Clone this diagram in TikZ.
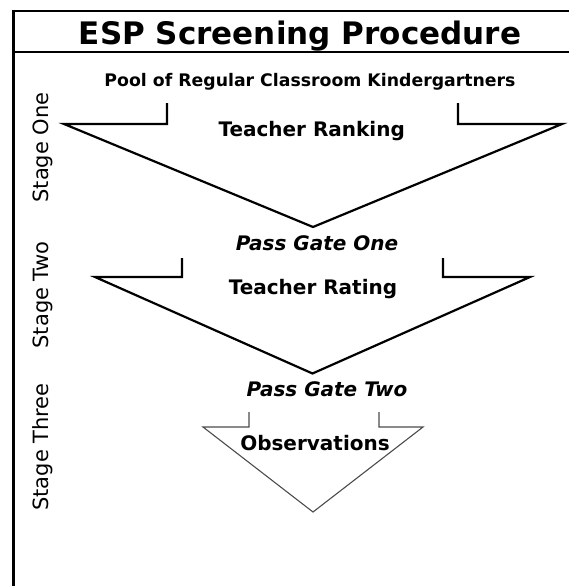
\documentclass[tikz,border=0pt]{standalone}
\usepackage{fontspec}
\setmainfont{DejaVu Sans}
\begin{document}
\begin{tikzpicture}[x=1pt,y=-1pt,
  frameline/.style={line width=2.6pt,black},
  funnel/.style={line width=2.2pt,black,line join=miter},
  funnelthin/.style={line width=1.1pt,black!70,line join=miter},
  titletext/.style={font=\fontsize{31}{36}\selectfont\bfseries,inner sep=0pt,anchor=base},
  pooltext/.style={font=\fontsize{17.3}{20}\selectfont\bfseries,inner sep=0pt,anchor=base},
  bodytext/.style={font=\fontsize{20}{24}\selectfont\bfseries,inner sep=0pt,anchor=base},
  gatetext/.style={font=\fontsize{20}{24}\selectfont\bfseries\itshape,inner sep=0pt,anchor=base},
  stagetext/.style={font=\fontsize{21}{24}\selectfont,inner sep=0pt,anchor=base,rotate=90}]
\useasboundingbox (0,0) rectangle (569,586);
\fill[white] (0,0) rectangle (569,586);
% frame
\coordinate (ftl) at (13.5,11);
\coordinate (ftr) at (575,11);
\coordinate (fbl) at (13.5,590);
\coordinate (sl) at (13.5,52);
\coordinate (sr) at (575,52);
\draw[frameline] (fbl) -- (ftl) -- (ftr);
\draw[line width=2.2pt] (sl) -- (sr);
% title and texts
\node[titletext] (title) at (300,45) {ESP Screening Procedure};
\node[pooltext] (pool) at (310,86) {Pool of Regular Classroom Kindergartners};
\node[bodytext] (rank) at (311.7,136.5) {Teacher Ranking};
\node[gatetext] (gate1) at (317,250) {Pass Gate One};
\node[bodytext] (rate) at (313,294) {Teacher Rating};
\node[gatetext] (gate2) at (327,396.5) {Pass Gate Two};
\node[bodytext] (obs) at (315,450) {Observations};
% stage labels
\node[stagetext] (s1) at (48,147.5) {Stage One};
\node[stagetext] (s2) at (48,295) {Stage Two};
\node[stagetext] (s3) at (48,447) {Stage Three};
% funnel one
\coordinate (a1) at (167,103);
\coordinate (b1) at (167,124);
\coordinate (c1) at (64,124);
\coordinate (p1) at (313,227);
\coordinate (d1) at (562,124);
\coordinate (e1) at (458,124);
\coordinate (f1) at (458,103);
\draw[funnel] (a1) -- (b1) -- (c1) -- (p1) -- (d1) -- (e1) -- (f1);
% funnel two
\coordinate (a2) at (182,258);
\coordinate (b2) at (182,277);
\coordinate (c2) at (95,277);
\coordinate (p2) at (312.5,373.5);
\coordinate (d2) at (530,277);
\coordinate (e2) at (443,277);
\coordinate (f2) at (443,258);
\draw[funnel] (a2) -- (b2) -- (c2) -- (p2) -- (d2) -- (e2) -- (f2);
% funnel three
\coordinate (a3) at (249,412);
\coordinate (b3) at (249,427);
\coordinate (c3) at (203,427);
\coordinate (p3) at (313,512);
\coordinate (d3) at (423,427);
\coordinate (e3) at (379,427);
\coordinate (f3) at (379,412);
\draw[funnelthin] (a3) -- (b3) -- (c3) -- (p3) -- (d3) -- (e3) -- (f3);
\end{tikzpicture}
\end{document}
